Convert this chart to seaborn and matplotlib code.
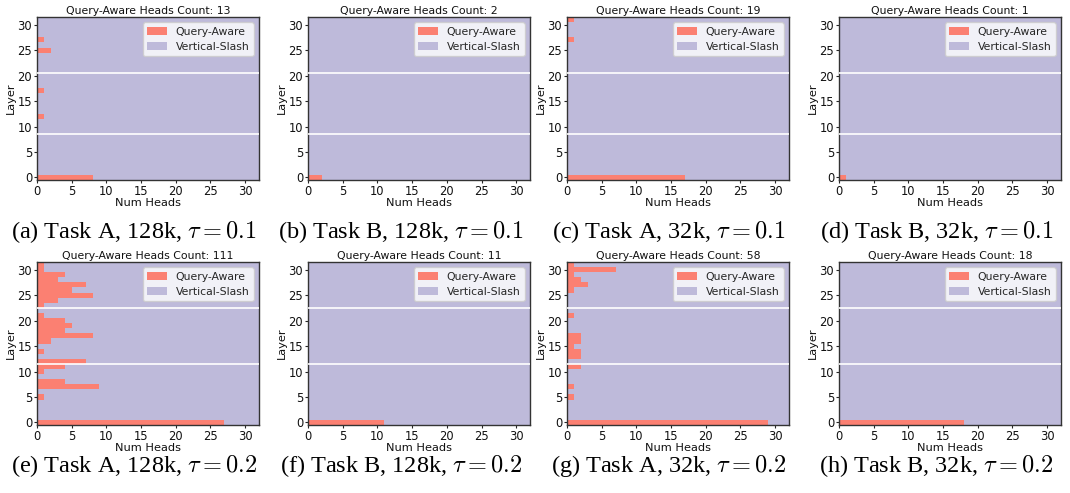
import numpy as np
import pandas as pd
import seaborn as sns
import matplotlib
matplotlib.use("Agg")
import matplotlib.pyplot as plt

# Number of query-aware heads per layer (layers 0..31), 32 heads per layer
layers = list(range(32))
total_heads = 32

qa_a = [8, 0, 0, 0, 0, 0, 0, 0, 0, 0, 0, 0, 1, 0, 0, 0, 0, 1, 0, 0, 0, 0, 0, 0, 0, 2, 0, 1, 0, 0, 0, 0]
qa_b = [2, 0, 0, 0, 0, 0, 0, 0, 0, 0, 0, 0, 0, 0, 0, 0, 0, 0, 0, 0, 0, 0, 0, 0, 0, 0, 0, 0, 0, 0, 0, 0]
qa_c = [17, 0, 0, 0, 0, 0, 0, 0, 0, 0, 0, 0, 0, 0, 0, 0, 0, 0, 0, 0, 0, 0, 0, 0, 0, 0, 0, 1, 0, 0, 0, 1]
qa_d = [1, 0, 0, 0, 0, 0, 0, 0, 0, 0, 0, 0, 0, 0, 0, 0, 0, 0, 0, 0, 0, 0, 0, 0, 0, 0, 0, 0, 0, 0, 0, 0]
qa_e = [27, 0, 0, 0, 0, 1, 0, 9, 4, 0, 1, 4, 7, 0, 1, 0, 2, 8, 4, 5, 4, 1, 0, 1, 3, 8, 5, 7, 3, 4, 1, 1]
qa_f = [11, 0, 0, 0, 0, 0, 0, 0, 0, 0, 0, 0, 0, 0, 0, 0, 0, 0, 0, 0, 0, 0, 0, 0, 0, 0, 0, 0, 0, 0, 0, 0]
qa_g = [29, 0, 0, 0, 0, 1, 0, 1, 0, 0, 0, 2, 0, 2, 2, 1, 2, 2, 0, 0, 0, 1, 0, 0, 0, 0, 1, 3, 2, 1, 7, 1]
qa_h = [18, 0, 0, 0, 0, 0, 0, 0, 0, 0, 0, 0, 0, 0, 0, 0, 0, 0, 0, 0, 0, 0, 0, 0, 0, 0, 0, 0, 0, 0, 0, 0]

panels = [qa_a, qa_b, qa_c, qa_d, qa_e, qa_f, qa_g, qa_h]
captions = [
    r"(a) Task A, 128k, $\tau = 0.1$", r"(b) Task B, 128k, $\tau = 0.1$",
    r"(c) Task A, 32k, $\tau = 0.1$", r"(d) Task B, 32k, $\tau = 0.1$",
    r"(e) Task A, 128k, $\tau = 0.2$", r"(f) Task B, 128k, $\tau = 0.2$",
    r"(g) Task A, 32k, $\tau = 0.2$", r"(h) Task B, 32k, $\tau = 0.2$",
]
# thin white seams visible in the rendered figure
seams_top = [8.5, 20.5]
seams_bottom = [11.5, 22.5]

sns.set_theme(style="ticks")
plt.rcParams["font.family"] = ["DejaVu Sans"]
plt.rcParams["mathtext.fontset"] = "cm"

color_qa = "#fb8072"
color_vs = "#bebada"

fig = plt.figure(figsize=(10.7, 4.93), dpi=100)

lefts = [0.0346, 0.2879, 0.5299, 0.7841]
bottoms = [0.6349, 0.1379]
width, height = 0.2075, 0.3306
caption_y = [0.529, 0.0548]

for i, qa in enumerate(panels):
    row, col = divmod(i, 4)
    ax = fig.add_axes([lefts[col], bottoms[row], width, height])
    df = pd.DataFrame({"Layer": layers, "Query-Aware": qa,
                       "Total": [total_heads] * len(layers)})
    sns.barplot(data=df, x="Total", y="Layer", orient="h", native_scale=True,
                width=1.0, color=color_vs, saturation=1, label="Vertical-Slash",
                linewidth=0, ax=ax)
    sns.barplot(data=df, x="Query-Aware", y="Layer", orient="h", native_scale=True,
                width=1.0, color=color_qa, saturation=1, label="Query-Aware",
                linewidth=0, ax=ax)
    for s in (seams_top if row == 0 else seams_bottom):
        ax.axhline(s, color="white", linewidth=1.2, zorder=5)

    ax.set_xlim(0, 32)
    ax.set_ylim(-0.5, 31.5)
    ax.set_xticks(range(0, 31, 5))
    ax.set_yticks(range(0, 31, 5))
    ax.tick_params(labelsize=8.3, length=2.5, width=0.8, pad=1, labelcolor="#111111")
    ax.set_xlabel("Num Heads", fontsize=8.2, labelpad=0, color="#111111")
    ax.set_ylabel("Layer", fontsize=8.2, labelpad=1, color="#111111")
    ax.set_title(f"Query-Aware Heads Count: {sum(qa)}", fontsize=7.8, pad=2,
                 color="#111111")
    for sp in ax.spines.values():
        sp.set_visible(True)
        sp.set_color("#333333")
        sp.set_linewidth(1.0)

    handles, labels = ax.get_legend_handles_labels()
    order = [labels.index("Query-Aware"), labels.index("Vertical-Slash")]
    ax.legend([handles[k] for k in order], [labels[k] for k in order],
              loc="upper right", fontsize=7.8, frameon=True, framealpha=0.8,
              fancybox=True, edgecolor="#cccccc", handlelength=1.8,
              labelspacing=0.45, borderpad=0.4)

    fig.text((col + 0.5) / 4, caption_y[row], captions[i], ha="center", va="center",
             fontsize=17.5, color="black", family=["Liberation Serif", "DejaVu Serif"])

fig.savefig("out.png", dpi=100)
